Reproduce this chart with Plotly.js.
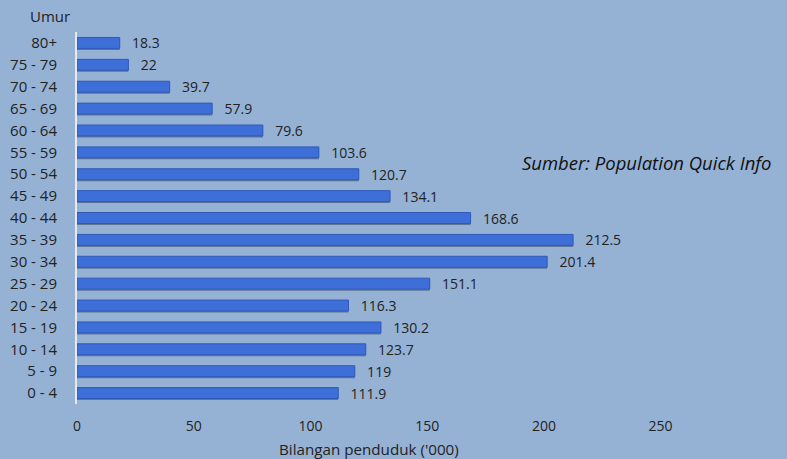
<!DOCTYPE html>
<html><head><meta charset="utf-8">
<script src="https://cdn.plot.ly/plotly-3.0.1.min.js"></script>
<style>html,body{margin:0;padding:0;background:#95b2d5;}</style>
</head><body>
<div id="chart" style="width:787px;height:459px;"></div>
<script>
const ageGroups = ["0 - 4","5 - 9","10 - 14","15 - 19","20 - 24","25 - 29","30 - 34","35 - 39","40 - 44","45 - 49","50 - 54","55 - 59","60 - 64","65 - 69","70 - 74","75 - 79","80+"];
const population = [111.9,119,123.7,130.2,116.3,151.1,201.4,212.5,168.6,134.1,120.7,103.6,79.6,57.9,39.7,22,18.3];
const xTicks = [0,50,100,150,200,250];

const fam = "Open Sans, Noto Sans, sans-serif";
const font = {family: fam, size: 14, color: "#222"};
const yFont = {family: fam, size: 15, color: "#222"};

const shadow = {
  type: "bar", orientation: "h", y: ageGroups, x: population,
  width: 0.5, offset: -0.32,
  marker: {color: "rgba(30,40,70,0.45)"},
  hoverinfo: "skip", showlegend: false
};
const bars = {
  type: "bar", orientation: "h", y: ageGroups, x: population,
  width: 0.5,
  marker: {color: "#3e6fd8", line: {color: "#2f5ab8", width: 1}},
  texttemplate: "\u2002\u2009%{x}", textposition: "outside", cliponaxis: false,
  constraintext: "none",
  textfont: font, showlegend: false
};

const layout = {
  width: 787, height: 459,
  paper_bgcolor: "#95b2d5", plot_bgcolor: "#95b2d5",
  margin: {l: 77, r: 5, t: 32, b: 55},
  barmode: "overlay",
  font: font,
  xaxis: {
    range: [0, 302], tickvals: xTicks, showgrid: false, zeroline: false,
    showline: false, ticks: "", tickfont: font, ticklabelstandoff: 12
  },
  yaxis: {
    type: "category", categoryorder: "array", categoryarray: ageGroups,
    range: [-0.5, 16.5], showgrid: false, zeroline: false,
    showline: true, linecolor: "#e6ebf2", linewidth: 2,
    ticks: "", tickfont: yFont, ticklabelstandoff: 15
  },
  annotations: [
    {text: "Umur", xref: "paper", yref: "paper", x: -0.038, y: 1.043, xanchor: "center", yanchor: "middle", showarrow: false, font: yFont},
    {text: "Bilangan penduduk ('000)", xref: "paper", yref: "paper", x: 0.414, y: -0.121, xanchor: "center", yanchor: "middle", showarrow: false, font: {family: fam, size: 15.2, color: "#222"}},
    {text: "<i>Sumber: Population Quick Info</i>", xref: "paper", yref: "paper", x: 0.988, y: 0.65, xanchor: "right", yanchor: "middle", showarrow: false, font: {family: fam, size: 18.5, color: "#111"}}
  ]
};
Plotly.newPlot("chart", [shadow, bars], layout, {staticPlot: true, displayModeBar: false});
</script>
</body></html>
